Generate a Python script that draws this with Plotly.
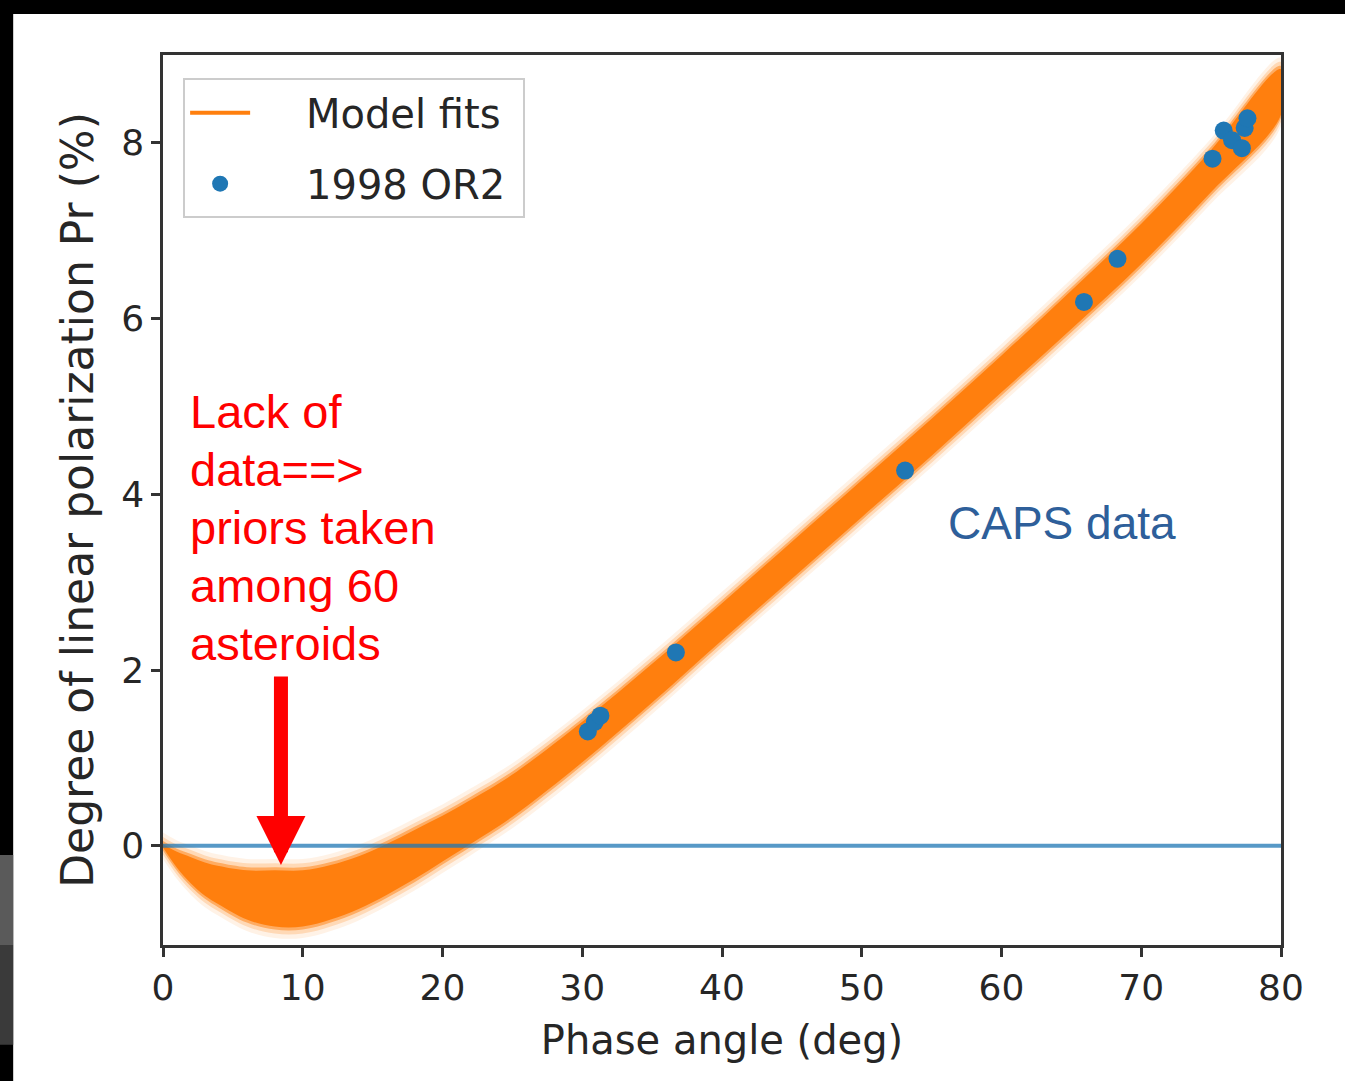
import plotly.graph_objects as go

# ---- data ----
band_x = [0, 1, 2, 3, 4, 6, 8, 10, 12, 14, 16, 18, 20, 22, 25, 30, 35, 40, 45, 50, 55, 60, 65, 70, 75, 80]
band_center = [0.0, -0.16, -0.28, -0.38, -0.45, -0.56, -0.60, -0.60, -0.53, -0.42, -0.27, -0.10, 0.08, 0.27,
               0.57, 1.18, 1.85, 2.55, 3.25, 3.95, 4.65, 5.37, 6.10, 6.85, 7.68, 8.58]
band_half = [0.02, 0.09, 0.15, 0.19, 0.22, 0.28, 0.32, 0.32, 0.31, 0.30, 0.29, 0.28, 0.26, 0.25,
             0.24, 0.23, 0.22, 0.21, 0.21, 0.21, 0.21, 0.21, 0.22, 0.23, 0.24, 0.26]

obs_phase = [30.4, 30.9, 31.3, 36.7, 53.1, 65.9, 68.3, 75.1, 75.9, 76.5, 77.2, 77.4, 77.6]
obs_pr = [1.30, 1.41, 1.48, 2.20, 4.27, 6.19, 6.68, 7.82, 8.14, 8.03, 7.94, 8.17, 8.28]
obs_err = [0.08, 0.08, 0.08, 0.08, 0.08, 0.08, 0.08, 0.08, 0.08, 0.08, 0.08, 0.08, 0.08]

x_ticks = [0, 10, 20, 30, 40, 50, 60, 70, 80]
y_ticks = [0, 2, 4, 6, 8]
zero_level = 0

note_lines = ["Lack of", "data==>", "priors taken", "among 60", "asteroids"]

ORANGE = "255,127,14"
BLUE = "#1f77b4"

fig = go.Figure()

# soft-edged band: several layers, widest first
for pad, alpha in [(0.13, 0.10), (0.08, 0.22), (0.035, 0.5), (0.0, 1.0)]:
    up = [c + h + pad for c, h in zip(band_center, band_half)]
    lo = [c - h - pad for c, h in zip(band_center, band_half)]
    fig.add_trace(go.Scatter(
        x=band_x + band_x[::-1], y=up + lo[::-1],
        fill="toself", fillcolor=f"rgba({ORANGE},{alpha})",
        line=dict(width=0, shape="spline"), mode="lines",
        hoverinfo="skip", showlegend=False))

# legend entry for model fits
fig.add_trace(go.Scatter(x=[None], y=[None], mode="lines", name="\u00a0\u00a0\u00a0\u00a0Model fits\u00a0",
                         legendgroup="a", line=dict(color=f"rgb({ORANGE})", width=4)))

# zero line
fig.add_shape(type="line", xref="x domain", yref="y", x0=0, x1=1, y0=zero_level, y1=zero_level,
              line=dict(color="rgba(31,119,180,0.75)", width=4), layer="above")

# observations
fig.add_trace(go.Scatter(
    x=obs_phase, y=obs_pr, mode="markers", name="\u00a0\u00a0\u00a0\u00a01998 OR2\u00a0", legendgroup="b",
    marker=dict(color=BLUE, size=18),
    error_y=dict(type="data", array=obs_err, color=BLUE, thickness=3, width=0)))

# annotations
fig.add_annotation(x=8.44, y=-0.22, xref="x", yref="y", ax=0, ay=-190,
                   showarrow=True, arrowhead=2, arrowsize=0.7, arrowwidth=14,
                   arrowcolor="#ff0000", text="")
note_px = [411, 469, 527, 585, 643]
for line, ypx in zip(note_lines, note_px):
    fig.add_annotation(x=(188 - 163) / 1118, y=(945 - ypx) / 890, xref="paper", yref="paper",
                       xanchor="left", yanchor="middle", showarrow=False, align="left",
                       text=line, font=dict(family="Liberation Sans, Arial", size=47, color="#ff0000"))
fig.add_annotation(x=56.0, y=3.67, xref="x", yref="y", xanchor="left", yanchor="middle",
                   showarrow=False, text="CAPS data",
                   font=dict(family="Liberation Sans, Arial", size=46, color="#2e5f9a"))

# black photo border strips
for (x0, x1, y0, y1, col) in [(-0.2, 1.1, 1.046, 1.1, "black"),
                              (-0.2, -0.134, -0.2, 1.1, "black"),
                              (-0.2, -0.134, 0.0, 0.101, "#5a5a5a"),
                              (-0.2, -0.134, -0.112, 0.0, "#3a3a3a")]:
    fig.add_shape(type="rect", xref="paper", yref="paper", x0=x0, x1=x1, y0=y0, y1=y1,
                  fillcolor=col, line=dict(width=0), layer="above")

axis_common = dict(showline=True, mirror=True, linecolor="#333333", linewidth=2.5,
                   ticks="outside", ticklen=9, tickwidth=2.5, tickcolor="#333333",
                   showgrid=False, zeroline=False,
                   tickfont=dict(family="DejaVu Sans", size=36, color="#262626"))

fig.update_xaxes(range=[0, 80], tickvals=x_ticks, title_text="Phase angle (deg)",
                 title_standoff=20,
                 title_font=dict(family="DejaVu Sans", size=40, color="#262626"), **axis_common)
fig.update_yaxes(range=[-1.13, 9.0], tickvals=y_ticks,
                 title_text="Degree of linear polarization Pr (%)",
                 title_standoff=14,
                 title_font=dict(family="DejaVu Sans", size=44, color="#262626"), **axis_common)

fig.update_layout(
    width=1345, height=1081,
    margin=dict(l=163, r=64, t=55, b=136),
    paper_bgcolor="white", plot_bgcolor="white",
    legend=dict(x=0.018, y=0.974, xanchor="left", yanchor="top",
                bgcolor="rgba(255,255,255,0.9)", bordercolor="#cccccc", borderwidth=2,
                font=dict(family="DejaVu Sans", size=40, color="#262626"),
                itemwidth=60, tracegroupgap=16),
)

fig.write_html("out.html")
